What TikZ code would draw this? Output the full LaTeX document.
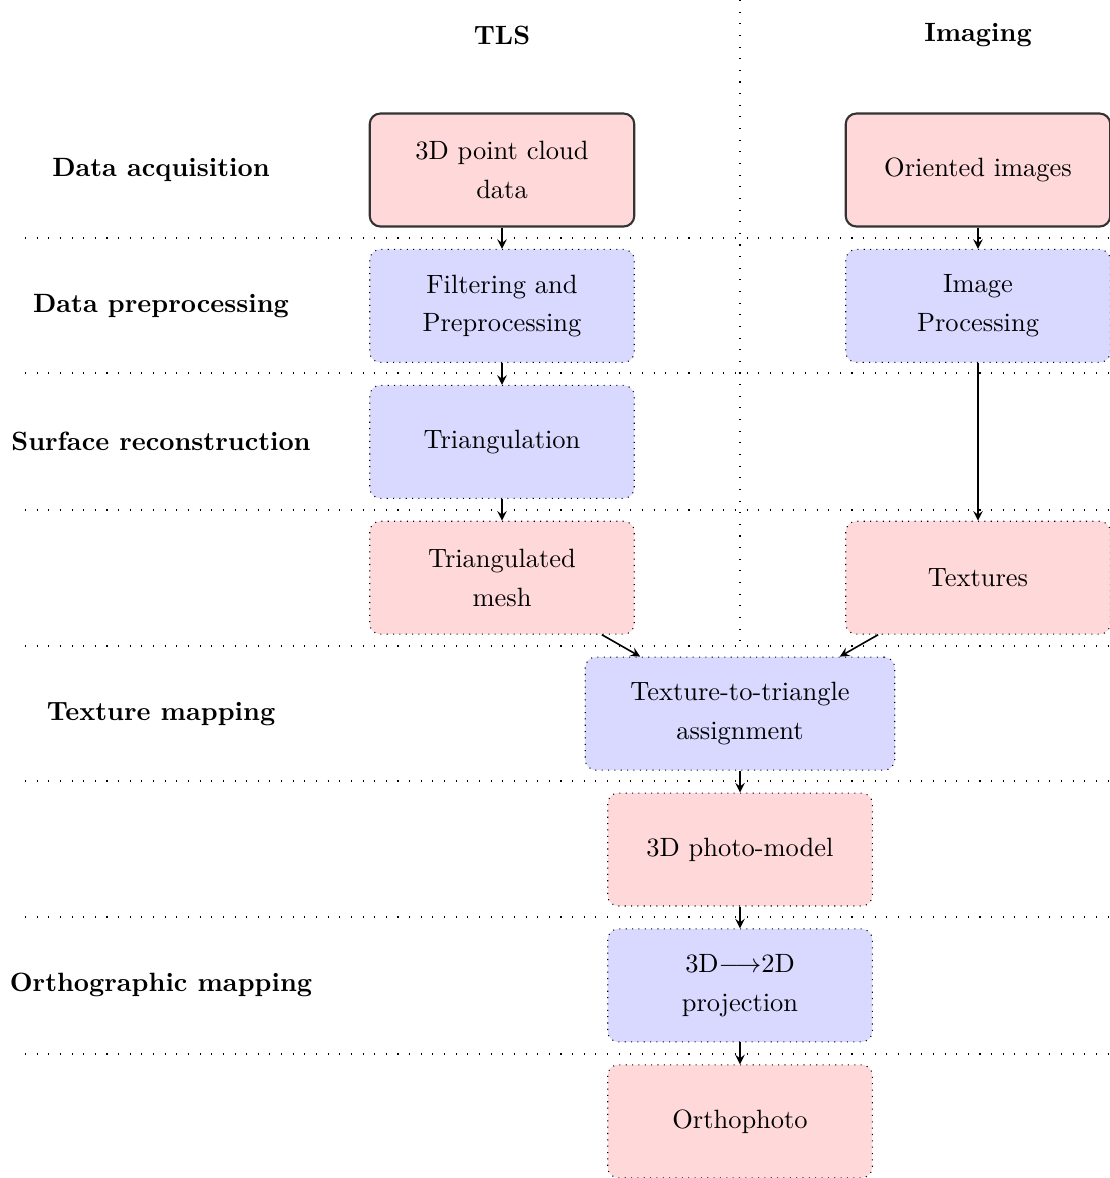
\documentclass[tikz,border=0pt]{standalone}
\usepackage{amssymb,amsfonts}
\usepackage{amsmath}
\usepackage{tikz}

\tikzset{
  stage/.style={rectangle, rounded corners=4pt, align=center,
    minimum width=100pt, minimum height=42.7pt,
    font=\linespread{1.22}\selectfont},
  solidbox/.style={stage, draw=black!80, thick},
  dotbox/.style={stage, draw=black, dotted},
  redfill/.style={fill=red!15},
  bluefill/.style={fill=blue!15},
  lanelabel/.style={font=\bfseries},
  flow/.style={->, semithick},
}

\begin{document}
\begin{tikzpicture}[x=0.378pt, y=-0.378pt, >=stealth]
    \def \tls {502}
    \def \img {978}
    \def \mcol {740}
    \def \dy {135.9} % row spacing
    \useasboundingbox (0,0) rectangle (1110,1178);
    % separators
    \foreach \y in {238,373,510,646,781,917,1054}
    {
      \draw[loosely dotted] (25,\y) -- (1110,\y);
    }
    \draw[loosely dotted] (\mcol,0) -- (\mcol,646);
    % column and lane headings
    \node[lanelabel] (htls) at (\tls,35) {TLS};
    \node[lanelabel] (himg) at (\img,35) {Imaging};
    \node[lanelabel] (lacq) at (161,170) {Data acquisition};
    \node[lanelabel] (lpre) at (161,170+\dy) {Data preprocessing};
    \node[lanelabel] (lsurf) at (161,170+2*\dy) {Surface reconstruction};
    \node[lanelabel] (ltex) at (161,170+4*\dy) {Texture mapping};
    \node[lanelabel] (lortho) at (161,170+6*\dy) {Orthographic mapping};
    % stages
    \node[solidbox, redfill] (pcd) at (\tls,170) {3D point cloud\\data};
    \node[solidbox, redfill] (oimg) at (\img,170) {Oriented images};
    \node[dotbox, bluefill] (filt) at (\tls,170+\dy) {Filtering and\\Preprocessing};
    \node[dotbox, bluefill] (improc) at (\img,170+\dy) {Image\\Processing};
    \node[dotbox, bluefill] (tri) at (\tls,170+2*\dy) {Triangulation};
    \node[dotbox, redfill] (mesh) at (\tls,170+3*\dy) {Triangulated\\mesh};
    \node[dotbox, redfill] (tex) at (\img,170+3*\dy) {Textures};
    \node[dotbox, bluefill, minimum width=117pt] (assign) at (\mcol,170+4*\dy)
      {Texture-to-triangle\\assignment};
    \node[dotbox, redfill] (photo) at (\mcol,170+5*\dy) {3D photo-model};
    \node[dotbox, bluefill] (proj) at (\mcol,170+6*\dy)
      {3D$\longrightarrow$2D\\projection};
    \node[dotbox, redfill] (ortho) at (\mcol,170+7*\dy) {Orthophoto};
    % flow
    \draw[flow] (pcd) -- (filt);
    \draw[flow] (filt) -- (tri);
    \draw[flow] (tri) -- (mesh);
    \draw[flow] (oimg) -- (improc);
    \draw[flow] (improc) -- (tex);
    \draw[flow] (mesh) -- (assign);
    \draw[flow] (tex) -- (assign);
    \draw[flow] (assign) -- (photo);
    \draw[flow] (photo) -- (proj);
    \draw[flow] (proj) -- (ortho);
\end{tikzpicture}
\end{document}
